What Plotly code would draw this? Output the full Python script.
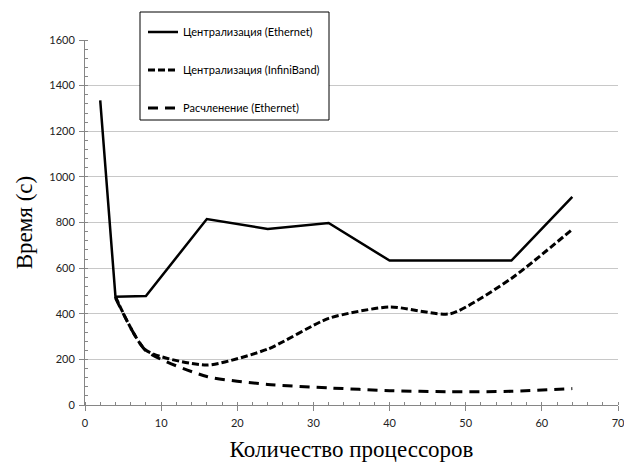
import plotly.graph_objects as go

# Number of processors
procs_central_eth = [2, 4, 8, 16, 24, 32, 40, 48, 56, 64]
procs_other = [4, 8, 16, 24, 32, 40, 48, 56, 64]

# Execution time, seconds
time_central_eth = [1335, 475, 478, 815, 772, 798, 633, 633, 633, 912]
time_central_ib = [475, 240, 175, 245, 380, 430, 400, 555, 770]
time_split_eth = [470, 238, 125, 90, 75, 63, 58, 60, 72]

names = ["Централизация (Ethernet)", "Централизация (InfiniBand)", "Расчленение (Ethernet)"]

W, H = 624, 467
ML, MR, MT, MB = 85, 6, 40, 62
PW, PH = W - ML - MR, H - MT - MB


def px_x(p):
    return (p - ML) / PW


def px_y(p):
    return (H - MB - p) / PH


fig = go.Figure()
fig.add_trace(go.Scatter(
    x=procs_central_eth, y=time_central_eth, mode="lines", name=names[0],
    line=dict(color="black", width=2.5), legendgroup="a"))
fig.add_trace(go.Scatter(
    x=procs_other, y=time_central_ib, mode="lines", name=names[1],
    line=dict(color="black", width=3, dash="7px,3px", shape="spline", smoothing=0.6),
    legendgroup="b"))
fig.add_trace(go.Scatter(
    x=procs_other, y=time_split_eth, mode="lines", name=names[2],
    line=dict(color="black", width=3, dash="10px,7px", shape="spline", smoothing=0.6),
    legendgroup="c"))

tick_font = dict(family="Lato, 'Open Sans', sans-serif", size=11, color="#222")
title_font = dict(family="'Liberation Serif', 'Times New Roman', serif", size=23, color="black")

fig.update_layout(
    width=W, height=H,
    margin=dict(l=ML, r=MR, t=MT, b=MB, autoexpand=False),
    paper_bgcolor="white", plot_bgcolor="white",
    showlegend=True,
    legend=dict(
        x=px_x(143), y=px_y(17.5), xanchor="left", yanchor="top",
        bgcolor="rgba(0,0,0,0)", borderwidth=0,
        font=dict(family="Lato, 'Open Sans', sans-serif", size=11, color="black"),
        tracegroupgap=19, itemwidth=30,
    ),
    xaxis=dict(
        range=[0, 70], dtick=10, tick0=0, showgrid=False, zeroline=False,
        showline=True, linecolor="#868686", linewidth=1,
        ticks="outside", ticklen=5, tickcolor="#868686",
        minor=dict(dtick=2, ticks="inside", ticklen=3, tickcolor="#868686", showgrid=False),
        tickfont=tick_font, ticklabelstandoff=3, ticklabeloverflow="allow",
        automargin=False,
        title=dict(text="Количество процессоров", font=title_font, standoff=12),
    ),
    yaxis=dict(
        range=[0, 1600], dtick=200, tick0=0, showgrid=True, gridcolor="#c8c8c8",
        gridwidth=1, zeroline=False,
        showline=True, linecolor="#868686", linewidth=1,
        ticks="outside", ticklen=5, tickcolor="#868686",
        minor=dict(dtick=40, ticks="inside", ticklen=3, tickcolor="#868686", showgrid=False),
        tickfont=tick_font, ticklabelstandoff=2, automargin=False,
        title=dict(text="Время (с)", font=title_font, standoff=10),
    ),
    shapes=[dict(
        type="rect", xref="paper", yref="paper",
        x0=px_x(140), x1=px_x(329), y0=px_y(120), y1=px_y(12),
        line=dict(color="black", width=1), fillcolor="white", layer="above",
    )],
)

fig.write_html("out.html")
